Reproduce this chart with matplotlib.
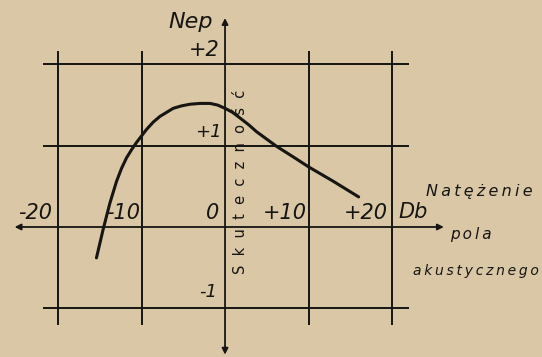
import matplotlib
matplotlib.use('Agg')
import matplotlib.pyplot as plt

# krzywa skutecznosci (dB, Np)
curve_db = [-15.4, -14.6, -13.8, -13.0, -12.4, -11.8, -11.2, -10.6, -10.0, -9.4,
            -8.6, -7.8, -7.0, -6.2, -5.2, -4.2, -3.0, -1.8, -0.9, 0.0,
            0.9, 1.8, 2.8, 3.8, 5.0, 6.2, 7.2, 8.2, 9.1, 10.0,
            11.5, 13.0, 14.5, 16.0]
curve_np = [-0.38, -0.03, 0.29, 0.56, 0.72, 0.85, 0.95, 1.04, 1.12, 1.20,
            1.29, 1.36, 1.41, 1.46, 1.49, 1.51, 1.52, 1.52, 1.50, 1.46,
            1.41, 1.34, 1.26, 1.17, 1.08, 0.99, 0.925, 0.86, 0.80, 0.74,
            0.65, 0.56, 0.465, 0.37]

grid_db = [-20, -10, 10, 20]
grid_np = [2, 1, -1]

x_labels = ['-20', '-10', '0', '+10', '+20']
y_labels = ['+2', '+1', '-1']

# polozenie napisow (uklad rysunku, nie dane)
x_label_at = [-22.75, -12.2, -1.55, 7.1, 16.9]
y_label_at = [(-2.5, 2.18), (-2.0, 1.17), (-2.0, -0.8)]

INK = '#161512'
PAPER = '#d9c7a6'
TS = '\u2009'  # waska spacja

plt.rcParams['font.family'] = ['DejaVu Sans']

fig = plt.figure(figsize=(5.42, 3.57), dpi=100, facecolor=PAPER)
ax = fig.add_axes([0, 0, 1, 1])
ax.set_facecolor(PAPER)
ax.set_xlim(-26.95, 37.96)
ax.set_ylim(-1.599, 2.792)
ax.axis('off')

# siatka
for v in grid_db:
  ax.plot([v, v], [-1.2, 2.17], color=INK, lw=1.4, solid_capstyle='butt')
for h in grid_np:
  ax.plot([-21.8, 22.0], [h, h], color=INK, lw=1.4, solid_capstyle='butt')

# osie ze strzalkami
arrow = dict(arrowstyle='<|-|>', color=INK, lw=1.3, mutation_scale=9,
             shrinkA=0, shrinkB=0)
ax.annotate('', xy=(26.2, 0), xytext=(-25.2, 0), arrowprops=arrow)
ax.annotate('', xy=(0, 2.57), xytext=(0, -1.57), arrowprops=arrow)

# krzywa
ax.plot(curve_db, curve_np, color=INK, lw=2.2, solid_capstyle='round',
        solid_joinstyle='round')

txt = dict(color=INK, style='italic', ha='center', va='center')
for lab, x in zip(x_labels, x_label_at):
  ax.text(x, 0.17, lab, fontsize=15, **txt)
for lab, (x, y) in zip(y_labels, y_label_at):
  ax.text(x, y, lab, fontsize=15 if lab == '+2' else 13, **txt)

ax.text(-4.1, 2.52, 'Nep', fontsize=16, **txt)
ax.text(22.5, 0.19, 'Db', fontsize=15, **txt)
ax.text(30.5, 0.44, TS.join('Natężenie'), fontsize=11.5, **txt)
ax.text(29.5, -0.09, TS.join('pola'), fontsize=11, **txt)
ax.text(30.1, -0.54, TS.join('akustycznego'), fontsize=10, **txt)
ax.text(1.9, 0.56, '  '.join('Skuteczność'), fontsize=10.5,
        color=INK, rotation=90, ha='center', va='center')

fig.savefig('out.png', dpi=100, facecolor=PAPER)
